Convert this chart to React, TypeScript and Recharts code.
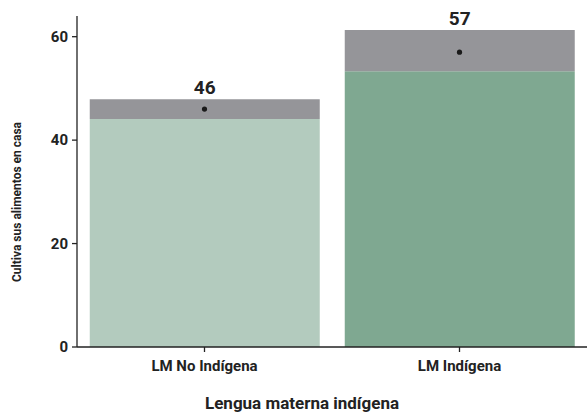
import { Bar, Cell, ComposedChart, LabelList, Line, XAxis, YAxis } from "recharts";

const categories = ["LM No Indígena", "LM Indígena"];
const estimates = [46, 57];
const lowerBounds = [44.1, 53.3];
const upperBounds = [47.9, 61.3];
const barColors = ["#b3cbbe", "#7fa891"];
const yTicks = [0, 20, 40, 60];

const data = categories.map((name, i) => ({
  name,
  estimate: estimates[i],
  lower: lowerBounds[i],
  band: upperBounds[i] - lowerBounds[i]
}));

const font = "Roboto, 'Noto Sans', sans-serif";

export default function App() {
  return (
    <div style={{ position: "absolute", left: 0, top: 0, width: 587, height: 416, background: "#fff" }}>
      <ComposedChart
        width={587}
        height={416}
        data={data}
        margin={{ top: 16, right: 0, bottom: 29, left: 0 }}
        barCategoryGap="5%"
      >
        <XAxis
          dataKey="name"
          height={40}
          stroke="#222"
          strokeWidth={1.3}
          tickSize={5}
          tickMargin={8}
          tick={{ fill: "#222", fontSize: 15, fontWeight: 700, fontFamily: font }}
        />
        <YAxis
          width={77}
          domain={[0, 64]}
          ticks={yTicks}
          stroke="#222"
          strokeWidth={1.3}
          tickSize={5}
          tickMargin={4}
          tick={{ fill: "#222", fontSize: 15, fontWeight: 700, fontFamily: font }}
        />
        <Bar dataKey="lower" stackId="a" isAnimationActive={false}>
          {data.map((d, i) => (
            <Cell key={d.name} fill={barColors[i]} />
          ))}
        </Bar>
        <Bar dataKey="band" stackId="a" fill="#959599" isAnimationActive={false}>
          <LabelList
            dataKey="estimate"
            position="top"
            offset={5}
            style={{ fill: "#222", fontSize: 19, fontWeight: 700, fontFamily: font }}
          />
        </Bar>
        <Line
          dataKey="estimate"
          stroke="none"
          dot={{ r: 2.6, fill: "#1a1a1a", stroke: "none" }}
          activeDot={false}
          isAnimationActive={false}
        />
        <text
          x={17}
          y={202}
          transform="rotate(-90 17 202)"
          textAnchor="middle"
          dominantBaseline="central"
          style={{ fill: "#222", fontSize: 12, fontWeight: 700, fontFamily: font }}
        >
          Cultiva sus alimentos en casa
        </text>
        <text
          x={302}
          y={403}
          textAnchor="middle"
          dominantBaseline="central"
          style={{ fill: "#222", fontSize: 17, fontWeight: 700, fontFamily: font }}
        >
          Lengua materna indígena
        </text>
      </ComposedChart>
    </div>
  );
}
